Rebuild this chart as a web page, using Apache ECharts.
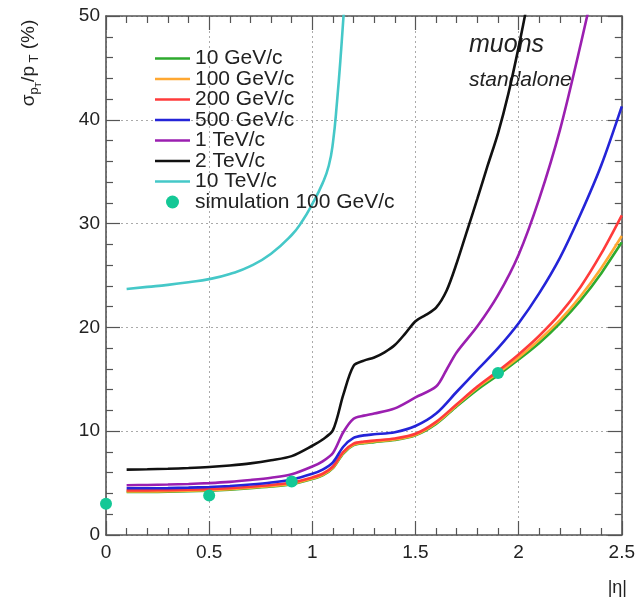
<!DOCTYPE html>
<html><head><meta charset="utf-8">
<script src="https://cdn.jsdelivr.net/npm/echarts@6/dist/echarts.min.js"></script>
<style>html,body{margin:0;padding:0;background:#fff}#c{width:638px;height:598px}</style>
</head><body><div id="c"></div>
<script>
// |eta| grid for low/mid momentum curves
const etaMain = [0.1,0.2,0.3,0.4,0.5,0.6,0.7,0.8,0.9,1.0,1.05,1.1,1.15,1.2,1.25,1.3,1.4,1.5,1.6,1.7,1.8,1.9,2.0,2.1,2.2,2.3,2.4,2.5];
const res10GeV  = [4.15,4.15,4.17,4.21,4.27,4.37,4.5,4.67,4.9,5.4,5.75,6.45,7.85,8.65,8.85,8.95,9.15,9.6,10.7,12.4,14.0,15.4,16.9,18.5,20.4,22.6,25.2,28.2];
const res100GeV = [4.2,4.2,4.22,4.26,4.32,4.42,4.55,4.72,4.95,5.45,5.8,6.5,7.9,8.7,8.9,9.0,9.2,9.65,10.8,12.5,14.2,15.6,17.1,18.8,20.7,23.0,25.7,28.8];
const res200GeV = [4.3,4.3,4.32,4.36,4.42,4.52,4.65,4.82,5.05,5.55,5.9,6.6,8.0,8.8,9.0,9.1,9.3,9.75,10.9,12.6,14.3,15.8,17.4,19.2,21.3,23.9,27.1,30.8];
const res500GeV = [4.5,4.5,4.52,4.56,4.62,4.72,4.86,5.05,5.35,5.9,6.3,7.0,8.5,9.35,9.6,9.7,9.9,10.5,11.7,13.8,15.9,18.0,20.4,23.3,26.7,30.9,35.6,41.3];
const eta1TeV = [0.1,0.2,0.3,0.4,0.5,0.6,0.7,0.8,0.9,1.0,1.05,1.1,1.15,1.2,1.25,1.3,1.4,1.5,1.6,1.65,1.7,1.8,1.9,2.0,2.1,2.2,2.3,2.4];
const res1TeV = [4.8,4.82,4.86,4.92,5.0,5.12,5.3,5.52,5.85,6.6,7.1,7.9,9.9,11.2,11.5,11.7,12.2,13.25,14.3,15.9,17.6,20.1,23.1,27.0,32.4,39.0,47.2,56.0];
const eta2TeV = [0.1,0.2,0.3,0.4,0.5,0.6,0.7,0.8,0.9,1.0,1.05,1.1,1.15,1.2,1.25,1.3,1.35,1.4,1.45,1.5,1.55,1.6,1.65,1.7,1.75,1.8,1.85,1.9,1.95,2.0,2.05];
const res2TeV = [6.3,6.33,6.38,6.45,6.55,6.7,6.9,7.2,7.6,8.6,9.2,10.1,13.5,16.3,16.8,17.1,17.6,18.3,19.4,20.6,21.2,21.9,23.5,26.2,29.3,32.4,35.6,38.7,42.5,47.0,52.0];
const eta10TeV = [0.1,0.2,0.3,0.4,0.5,0.6,0.7,0.8,0.9,0.95,1.0,1.05,1.08,1.1,1.12,1.14,1.16];
const res10TeV = [23.7,23.9,24.1,24.35,24.65,25.15,25.9,27.1,28.9,30.2,31.9,33.9,35.6,37.8,41.8,46.8,52.5];
const etaSim = [0, 0.5, 0.9, 1.9];
const resSim = [3.0, 3.8, 5.15, 15.6];

const names = ['10 GeV/c','100 GeV/c','200 GeV/c','500 GeV/c','1 TeV/c','2 TeV/c','10 TeV/c','simulation 100 GeV/c'];
const xTicks = [0, 0.5, 1, 1.5, 2, 2.5];
const yTicks = [0, 10, 20, 30, 40, 50];

const zip = (xs, ys) => xs.map((x, i) => [x, ys[i]]);
const FONT = 'Liberation Sans, Arial, Helvetica, sans-serif';
const AX = '#555';
const LINE_ICON = 'path://M0,0 L35,0 L35,2.6 L0,2.6 Z';

function lineSeries(name, xs, ys, color, smooth) {
  return {
    type: 'line', name, data: zip(xs, ys), xAxisIndex: 0, yAxisIndex: 0,
    symbol: 'none', smooth: smooth, clip: true,
    lineStyle: { color, width: 2.6 }, itemStyle: { color }
  };
}

const axisCommonX = {
  type: 'value', min: xTicks[0], max: xTicks[xTicks.length - 1], interval: 0.5,
  axisLine: { show: true, onZero: false, lineStyle: { color: AX, width: 1.6 } },
  axisTick: { show: true, inside: true, length: 14, lineStyle: { color: AX, width: 1.2 } },
  minorTick: { show: true, splitNumber: 5, length: 7, lineStyle: { color: AX, width: 1.2 } }
};
const axisCommonY = {
  type: 'value', min: yTicks[0], max: yTicks[yTicks.length - 1], interval: 10,
  axisLine: { show: true, onZero: false, lineStyle: { color: AX, width: 1.6 } },
  axisTick: { show: true, inside: true, length: 14, lineStyle: { color: AX, width: 1.2 } },
  minorTick: { show: true, splitNumber: 5, length: 7, lineStyle: { color: AX, width: 1.2 } }
};

const chart = echarts.init(document.getElementById('c'), null, { renderer: 'canvas' });
chart.setOption({
  animation: false,
  backgroundColor: '#fff',
  grid: { left: 106, right: 11, top: 16, bottom: 63, containLabel: false },
  xAxis: [
    Object.assign({}, axisCommonX, {
      position: 'bottom',
      axisLabel: { show: true, margin: 8, color: '#222', fontSize: 19, fontFamily: FONT },
      splitLine: { show: true, lineStyle: { color: '#aaa', width: 1, type: [2, 3] } }
    }),
    Object.assign({}, axisCommonX, {
      position: 'top', axisLabel: { show: false }, splitLine: { show: false }
    })
  ],
  yAxis: [
    Object.assign({}, axisCommonY, {
      position: 'left',
      axisLabel: { show: true, margin: 6, color: '#222', fontSize: 19, fontFamily: FONT },
      splitLine: { show: true, lineStyle: { color: '#aaa', width: 1, type: [2, 3] } }
    }),
    Object.assign({}, axisCommonY, {
      position: 'right', axisLabel: { show: false }, splitLine: { show: false }
    })
  ],
  legend: {
    orient: 'vertical', left: 155, top: 48, padding: 0, itemGap: -0.5,
    itemWidth: 35, itemHeight: 13, symbolKeepAspect: true,
    textStyle: { fontSize: 21, fontFamily: FONT, color: '#222', lineHeight: 20 },
    data: names.slice(0, 7).map(n => ({ name: n, icon: LINE_ICON })).concat([{ name: names[7], icon: 'circle' }]),
    selectedMode: false
  },
  series: [
    lineSeries(names[0], etaMain, res10GeV, '#2eaa2e', 0.3),
    lineSeries(names[1], etaMain, res100GeV, '#ffa832', 0.3),
    lineSeries(names[2], etaMain, res200GeV, '#ff3b3b', 0.3),
    lineSeries(names[3], etaMain, res500GeV, '#2424d8', 0.3),
    lineSeries(names[4], eta1TeV, res1TeV, '#9b1fb0', 0.3),
    lineSeries(names[5], eta2TeV, res2TeV, '#111111', 0.3),
    lineSeries(names[6], eta10TeV, res10TeV, '#45c8c8', 0.5),
    {
      type: 'scatter', name: names[7], data: zip(etaSim, resSim), symbol: 'circle', symbolSize: 12,
      clip: false, itemStyle: { color: '#14c896', opacity: 1 }, z: 5
    }
  ],
  graphic: [
    { type: 'text', left: 469, top: 33, style: { text: 'muons', fontSize: 25, fontStyle: 'italic', fontFamily: FONT, fill: '#222' } },
    { type: 'text', left: 469, top: 70, style: { text: 'standalone', fontSize: 21, fontStyle: 'italic', fontFamily: FONT, fill: '#222' } },
    { type: 'text', right: 11, top: 579, style: { text: '|η|', fontSize: 18, fontFamily: FONT, fill: '#222' } },
    {
      type: 'text', x: 30, y: 63, rotation: Math.PI / 2,
      style: {
        text: '{n|σ}{s|p}{ss|T}{n|/p}{s| T}{n| (%)}', align: 'center', verticalAlign: 'middle',
        fontFamily: FONT, fill: '#222',
        rich: {
          n: { fontSize: 19, fontFamily: FONT, fill: '#222', verticalAlign: 'top', lineHeight: 22 },
          s: { fontSize: 13, fontFamily: FONT, fill: '#222', verticalAlign: 'top', lineHeight: 22, padding: [9, 0, 0, 0] },
          ss: { fontSize: 9, fontFamily: FONT, fill: '#222', verticalAlign: 'top', lineHeight: 22, padding: [15, 0, 0, 0] }
        }
      }
    }
  ]
});
</script>
</body></html>
